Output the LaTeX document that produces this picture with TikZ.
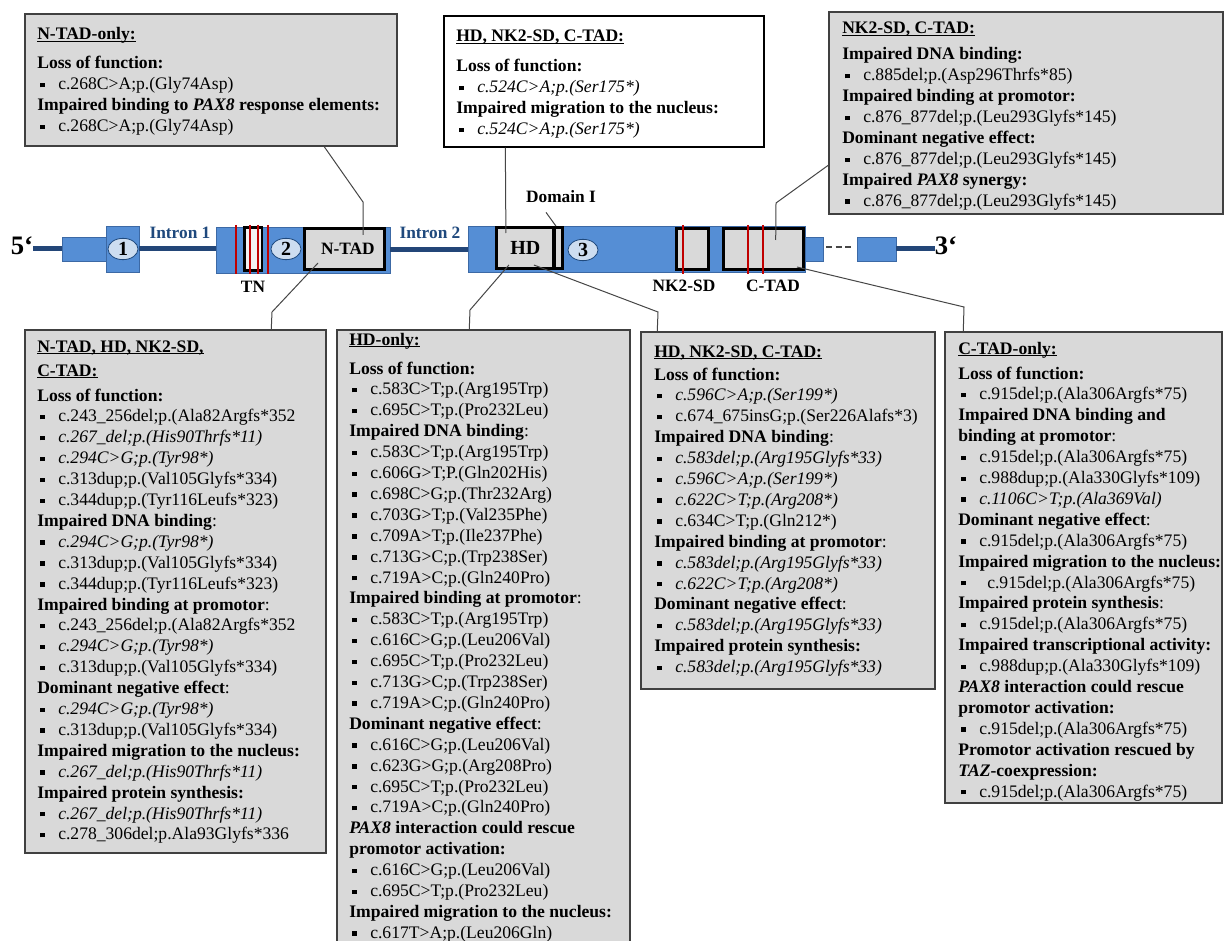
\documentclass[tikz,border=0pt]{standalone}
\usepackage{fontspec}
\setmainfont{Liberation Serif}
\usetikzlibrary{fit,shapes.geometric}

\definecolor{boxgray}{RGB}{217,217,217}
\definecolor{boxline}{RGB}{64,64,64}
\definecolor{connline}{RGB}{70,70,70}
\definecolor{exonblue}{RGB}{85,142,213}
\definecolor{exonedge}{RGB}{60,105,165}
\definecolor{intronblue}{RGB}{35,70,120}
\definecolor{labelblue}{RGB}{31,73,125}
\definecolor{numfill}{RGB}{205,221,240}
\definecolor{mutred}{RGB}{192,0,0}
\definecolor{tnfill}{RGB}{242,242,242}

\newcommand\bodyfont{\fontsize{13.2pt}{15.675pt}\selectfont}
% underlined bold panel title
\newcommand\ttl[1]{\setbox0\hbox{\bfseries #1}\rlap{\rule[-1.7pt]{\wd0}{0.75pt}}\box0}
\newcommand\hdr[1]{\textbf{#1}}
% square bullet item
\newcommand\itm[1]{\makebox[15.75pt][l]{\hspace{2.2pt}\rule[1.9pt]{3.3pt}{3.3pt}}#1}
\newcommand\itmx[1]{\makebox[15.75pt][l]{\hspace{2.2pt}\rule[1.9pt]{3.3pt}{3.3pt}}\hspace{6pt}#1}
\newcommand\lines[1]{\parbox[t]{300pt}{\bodyfont\raggedright #1}}

\tikzset{
  panel/.style={draw=boxline, fill=boxgray, line width=1.1pt, inner sep=0pt},
  panelw/.style={draw=black, fill=white, line width=1pt, inner sep=0pt},
  exon/.style={draw=exonedge, fill=exonblue, line width=0.5pt, inner sep=0pt},
  domainbox/.style={draw=black, fill=boxgray, line width=2.4pt, inner sep=0pt},
  intron/.style={draw=intronblue, line width=3.75pt},
  conn/.style={draw=connline, line width=0.75pt},
  mut/.style={draw=mutred, line width=2.2pt},
  numc/.style={ellipse, draw=labelblue, fill=numfill, line width=0.6pt,
    minimum width=22.5pt, minimum height=16pt, inner sep=0pt,
    font=\fontsize{15pt}{15pt}\selectfont\bfseries},
  glabel/.style={font=\fontsize{13pt}{13pt}\selectfont\bfseries, inner sep=0pt},
  ilabel/.style={glabel, text=labelblue},
  endlabel/.style={font=\fontsize{20pt}{20pt}\selectfont\bfseries, inner sep=0pt},
  txt/.style={anchor=base west, inner sep=0pt, font=\bodyfont},
}

\begin{document}
\begin{tikzpicture}[x=0.75pt,y=-0.75pt]
\useasboundingbox (0,0) rectangle (1224,941);
\clip (0,0) rectangle (1224,941);
\fill[white] (0,0) rectangle (1224,941);

% ---------- gene model ----------
\node[exon, fit={(62,237) (107,261)}] (utr5) {};
\node[exon, fit={(106,226) (139,272)}] (ex1) {};
\node[exon, fit={(216,227) (390,273)}] (ex2) {};
\node[exon, fit={(468,226) (805,272)}] (ex3) {};
\node[exon, fit={(805,237) (823,261)}] (ex3t) {};
\node[exon, fit={(857,237) (896,261)}] (utr3) {};

\node[endlabel] (p5) at (22,246) {5‘};
\node[endlabel] (p3) at (946,246) {3‘};

\draw[intron] (p5.east |- utr5.west) -- (utr5.west);
\draw[intron] (ex1.east) -- (ex1.east -| ex2.west);
\draw[intron] (ex2.east) -- (ex2.east -| ex3.west);
\draw[intron] (utr3.east) -- (utr3.east -| p3.west);
\draw[draw=connline, line width=1.2pt, dash pattern=on 4.5pt off 2.5pt]
  ([xshift=2.25pt,yshift=1.5pt]ex3t.east) -- ([xshift=-4pt,yshift=1.5pt]utr3.west);

% protein domains
\node[domainbox, fill=tnfill, line width=2.2pt, fit={(244.5,227.6) (262,270.4)}] (tn) {};
\node[domainbox, fit={(304.6,228.6) (384.4,269.4)}] (ntad) {};
\node[domainbox, fit={(496.5,227.6) (554,268.4)}] (hd) {};
\node[domainbox, fit={(554,227.6) (562.5,268.4)}] (domI) {};
\node[domainbox, fit={(676.6,228.6) (708.4,269.4)}] (nk2) {};
\node[domainbox, fit={(723.3,228.6) (803.4,269.4)}] (ctad) {};

% mutation hot spots
\foreach \mx in {236,250,258,268,683,748,763}
  \draw[mut] (\mx,225) -- (\mx,274);

\node[glabel, xshift=2.5pt] at (ntad.center) {N-TAD};
\node[glabel, font=\fontsize{15pt}{15pt}\selectfont\bfseries] at (hd.center) {HD};

\node[numc] (n1) at (123,249) {1};
\node[numc] (n2) at (286,249) {2};
\node[numc] (n3) at (583,250) {3};

\node[ilabel] (in1) at (180,233) {Intron 1};
\node[ilabel] (in2) at (430,233) {Intron 2};
\node[glabel] (tnl) at (253,287) {TN};
\node[glabel] (nkl) at (684,286) {NK2-SD};
\node[glabel] (ctl) at (773,286) {C-TAD};
\node[glabel] (dl) at (561,197) {Domain I};

% ---------- panels ----------
\node[panel, fit={(25,14) (397,146)}] (boxA) {};
\node[panelw, fit={(444,16) (764,147)}] (boxB) {};
\node[panel, fit={(829,12) (1223,214)}] (boxC) {};
\node[panel, fit={(25,330) (326,853)}] (boxD) {};
\node[panel, fit={(337,330) (630,960)}] (boxE) {};
\node[panel, fit={(641,332) (935,689)}] (boxF) {};
\node[panel, fit={(945,332) (1222,803)}] (boxG) {};

% panel A
\node[txt] (tA) at (37,40) {\ttl{N-TAD-only:}};
\node[txt] (bA) at (37,69) {\lines{%
\hdr{Loss of function:}\\
\itm{c.268C>A;p.(Gly74Asp)}\\
\hdr{Impaired binding to \textit{PAX8} response elements:}\\
\itm{c.268C>A;p.(Gly74Asp)}}};

% panel B
\node[txt] (tB) at (456,42) {\ttl{HD, NK2-SD, C-TAD:}};
\node[txt] (bB) at (456,72) {\lines{%
\hdr{Loss of function:}\\
\itm{\textit{c.524C>A;p.(Ser175*)}}\\
\hdr{Impaired migration to the nucleus:}\\
\itm{\textit{c.524C>A;p.(Ser175*)}}}};

% panel C
\node[txt] (tC) at (842,34) {\ttl{NK2-SD, C-TAD:}};
\node[txt] (bC) at (842,60) {\lines{%
\hdr{Impaired DNA binding:}\\
\itm{c.885del;p.(Asp296Thrfs*85)}\\
\hdr{Impaired binding at promotor:}\\
\itm{c.876\_877del;p.(Leu293Glyfs*145)}\\
\hdr{Dominant negative effect:}\\
\itm{c.876\_877del;p.(Leu293Glyfs*145)}\\
\hdr{Impaired \textit{PAX8} synergy:}\\
\itm{c.876\_877del;p.(Leu293Glyfs*145)}}};

% panel D
\node[txt] (tD1) at (37,352) {\ttl{N-TAD, HD, NK2-SD,}};
\node[txt] (tD2) at (37,376) {\ttl{C-TAD:}};
\node[txt] (bD) at (37,401) {\lines{%
\hdr{Loss of function:}\\
\itm{c.243\_256del;p.(Ala82Argfs*352}\\
\itm{\textit{c.267\_del;p.(His90Thrfs*11)}}\\
\itm{\textit{c.294C>G;p.(Tyr98*)}}\\
\itm{c.313dup;p.(Val105Glyfs*334)}\\
\itm{c.344dup;p.(Tyr116Leufs*323)}\\
\hdr{Impaired DNA binding}:\\
\itm{\textit{c.294C>G;p.(Tyr98*)}}\\
\itm{c.313dup;p.(Val105Glyfs*334)}\\
\itm{c.344dup;p.(Tyr116Leufs*323)}\\
\hdr{Impaired binding at promotor}:\\
\itm{c.243\_256del;p.(Ala82Argfs*352}\\
\itm{\textit{c.294C>G;p.(Tyr98*)}}\\
\itm{c.313dup;p.(Val105Glyfs*334)}\\
\hdr{Dominant negative effect}:\\
\itm{\textit{c.294C>G;p.(Tyr98*)}}\\
\itm{c.313dup;p.(Val105Glyfs*334)}\\
\hdr{Impaired migration to the nucleus:}\\
\itm{\textit{c.267\_del;p.(His90Thrfs*11)}}\\
\hdr{Impaired protein synthesis:}\\
\itm{\textit{c.267\_del;p.(His90Thrfs*11)}}\\
\itm{c.278\_306del;p.Ala93Glyfs*336}}};

% panel E
\node[txt] (tE) at (349,345) {\ttl{HD-only:}};
\node[txt] (bE) at (349,374) {\lines{%
\hdr{Loss of function:}\\
\itm{c.583C>T;p.(Arg195Trp)}\\
\itm{c.695C>T;p.(Pro232Leu)}\\
\hdr{Impaired DNA binding}:\\
\itm{c.583C>T;p.(Arg195Trp)}\\
\itm{c.606G>T;P.(Gln202His)}\\
\itm{c.698C>G;p.(Thr232Arg)}\\
\itm{c.703G>T;p.(Val235Phe)}\\
\itm{c.709A>T;p.(Ile237Phe)}\\
\itm{c.713G>C;p.(Trp238Ser)}\\
\itm{c.719A>C;p.(Gln240Pro)}\\
\hdr{Impaired binding at promotor}:\\
\itm{c.583C>T;p.(Arg195Trp)}\\
\itm{c.616C>G;p.(Leu206Val)}\\
\itm{c.695C>T;p.(Pro232Leu)}\\
\itm{c.713G>C;p.(Trp238Ser)}\\
\itm{c.719A>C;p.(Gln240Pro)}\\
\hdr{Dominant negative effect}:\\
\itm{c.616C>G;p.(Leu206Val)}\\
\itm{c.623G>G;p.(Arg208Pro)}\\
\itm{c.695C>T;p.(Pro232Leu)}\\
\itm{c.719A>C;p.(Gln240Pro)}\\
\hdr{\textit{PAX8} interaction could rescue}\\
\hdr{promotor activation:}\\
\itm{c.616C>G;p.(Leu206Val)}\\
\itm{c.695C>T;p.(Pro232Leu)}\\
\hdr{Impaired migration to the nucleus:}\\
\itm{c.617T>A;p.(Leu206Gln)}}};

% panel F
\node[txt] (tF) at (654,357) {\ttl{HD, NK2-SD, C-TAD:}};
\node[txt] (bF) at (654,380) {\lines{%
\hdr{Loss of function:}\\
\itm{\textit{c.596C>A;p.(Ser199*)}}\\
\itm{c.674\_675insG;p.(Ser226Alafs*3)}\\
\hdr{Impaired DNA binding}:\\
\itm{\textit{c.583del;p.(Arg195Glyfs*33)}}\\
\itm{\textit{c.596C>A;p.(Ser199*)}}\\
\itm{\textit{c.622C>T;p.(Arg208*)}}\\
\itm{c.634C>T;p.(Gln212*)}\\
\hdr{Impaired binding at promotor}:\\
\itm{\textit{c.583del;p.(Arg195Glyfs*33)}}\\
\itm{\textit{c.622C>T;p.(Arg208*)}}\\
\hdr{Dominant negative effect}:\\
\itm{\textit{c.583del;p.(Arg195Glyfs*33)}}\\
\hdr{Impaired protein synthesis:}\\
\itm{\textit{c.583del;p.(Arg195Glyfs*33)}}}};

% panel G
\node[txt] (tG) at (958,354) {\ttl{C-TAD-only:}};
\node[txt] (bG) at (958,379) {\lines{%
\hdr{Loss of function:}\\
\itm{c.915del;p.(Ala306Argfs*75)}\\
\hdr{Impaired DNA binding and}\\
\hdr{binding at promotor}:\\
\itm{c.915del;p.(Ala306Argfs*75)}\\
\itm{c.988dup;p.(Ala330Glyfs*109)}\\
\itm{\textit{c.1106C>T;p.(Ala369Val)}}\\
\hdr{Dominant negative effect}:\\
\itm{c.915del;p.(Ala306Argfs*75)}\\
\hdr{Impaired migration to the nucleus:}\\
\itmx{c.915del;p.(Ala306Argfs*75)}\\
\hdr{Impaired protein synthesis}:\\
\itm{c.915del;p.(Ala306Argfs*75)}\\
\hdr{Impaired transcriptional activity:}\\
\itm{c.988dup;p.(Ala330Glyfs*109)}\\
\hdr{\textit{PAX8} interaction could rescue}\\
\hdr{promotor activation:}\\
\itm{c.915del;p.(Ala306Argfs*75)}\\
\hdr{Promotor activation rescued by}\\
\hdr{\textit{TAZ}-coexpression:}\\
\itm{c.915del;p.(Ala306Argfs*75)}}};

% ---------- connectors ----------
\coordinate (kA) at (363,202);
\coordinate (kD) at (272,312);
\coordinate (kE) at (470,310);
\coordinate (kF) at (658,312);
\coordinate (kC) at (776,203);
\coordinate (kG) at (964,307);

\draw[conn] ([shift={(300,0)}]boxA.south west) -- (kA) -- ([shift={(60,8)}]ntad.north west);
\draw[conn] ([shift={(15,-8)}]ntad.south west) -- (kD) -- ([shift={(247,0)}]boxD.north west);
\draw[conn] ([shift={(62,0)}]boxB.south west) -- ([shift={(11,7)}]hd.north west);
\draw[conn] ([shift={(14,-5)}]hd.south west) -- (kE) -- ([shift={(133,0)}]boxE.north west);
\draw[conn] ([shift={(39,-5)}]hd.south west) -- (kF) -- ([shift={(17,0)}]boxF.north west);
\draw[conn] ([shift={(-15,9)}]dl.south) -- ([shift={(3.5,0)}]domI.north west);
\draw[conn] ([shift={(0,154)}]boxC.north west) -- (kC) -- ([shift={(54,13)}]ctad.north west);
\draw[conn] ([shift={(-8,-4)}]ctad.south east) -- (kG) -- ([shift={(19,0)}]boxG.north west);
\end{tikzpicture}
\end{document}
